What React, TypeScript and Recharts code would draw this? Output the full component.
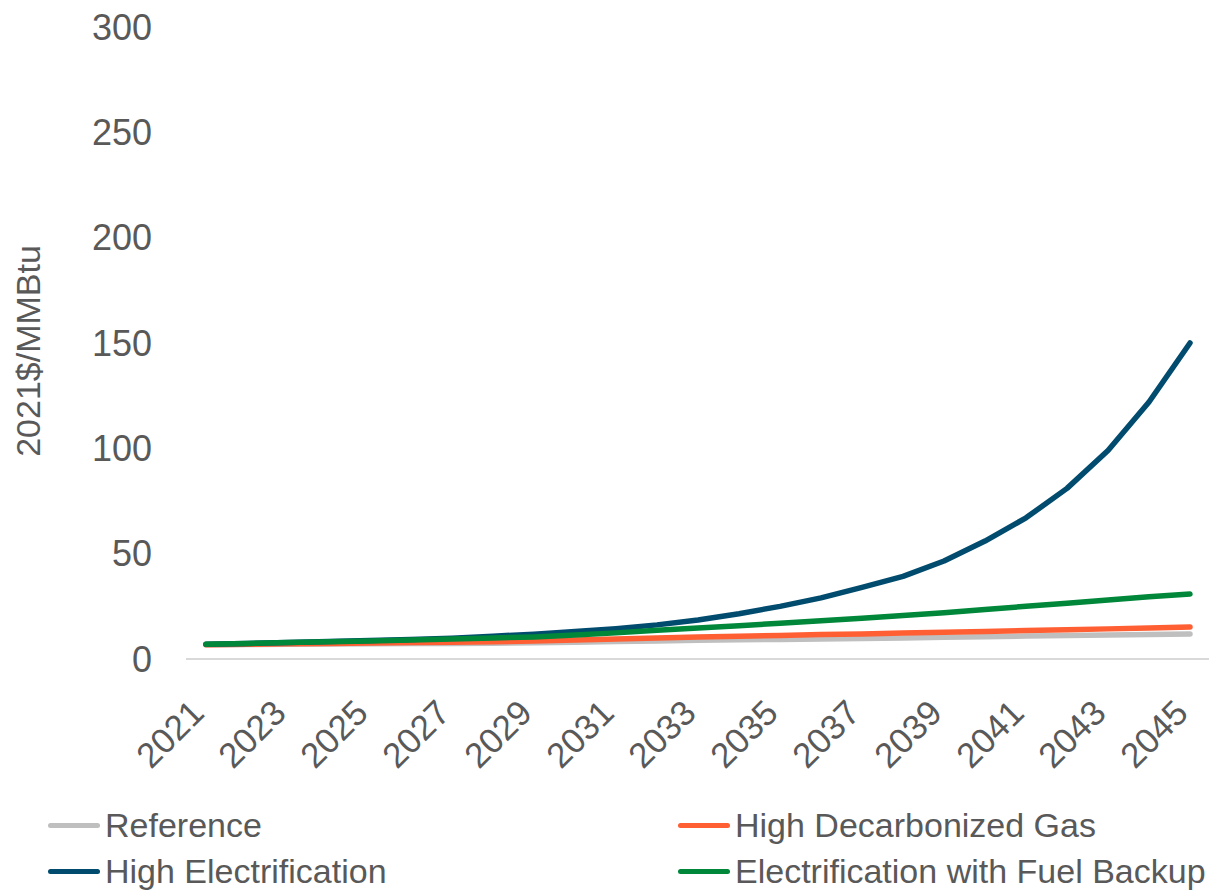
import React from 'react';
import { LineChart, Line, XAxis, YAxis, Legend } from 'recharts';

const years = [
  '2021', '2022', '2023', '2024', '2025', '2026', '2027', '2028', '2029', '2030',
  '2031', '2032', '2033', '2034', '2035', '2036', '2037', '2038', '2039', '2040',
  '2041', '2042', '2043', '2044', '2045',
];

const reference = [
  6.8, 6.9, 7.0, 7.1, 7.2, 7.3, 7.4, 7.5, 7.7, 8.0,
  8.3, 8.6, 8.9, 9.1, 9.3, 9.5, 9.7, 10.0, 10.3, 10.6,
  10.9, 11.1, 11.4, 11.6, 11.9,
];

const highDecarbGas = [
  6.8, 7.0, 7.2, 7.4, 7.6, 7.8, 8.0, 8.2, 8.5, 9.0,
  9.5, 10.0, 10.4, 10.8, 11.2, 11.6, 11.9, 12.3, 12.7, 13.1,
  13.5, 13.9, 14.3, 14.7, 15.2,
];

const highElectrification = [
  7.0, 7.4, 7.8, 8.3, 8.8, 9.3, 9.9, 10.8, 11.8, 13.0,
  14.4, 16.2, 18.5, 21.5, 25.0, 29.0, 34.0, 39.2, 46.5, 56.0,
  67.0, 81.0, 99.0, 122.0, 150.0,
];

const elecFuelBackup = [
  7.0, 7.4, 7.8, 8.2, 8.6, 9.0, 9.5, 10.0, 10.5, 11.4,
  12.4, 13.6, 14.7, 15.8, 17.0, 18.2, 19.3, 20.7, 22.0, 23.5,
  25.0, 26.5, 28.0, 29.5, 30.8,
];

const yTicks = [0, 50, 100, 150, 200, 250, 300];

const series = [
  { key: 'reference', name: 'Reference', color: '#BFBFBF' },
  { key: 'gas', name: 'High Decarbonized Gas', color: '#FF5F33' },
  { key: 'elec', name: 'High Electrification', color: '#004B6E' },
  { key: 'backup', name: 'Electrification with Fuel Backup', color: '#00873A' },
];

const data = years.map((year, i) => ({
  year,
  reference: reference[i],
  gas: highDecarbGas[i],
  elec: highElectrification[i],
  backup: elecFuelBackup[i],
}));

const TEXT = '#595959';
const FONT = 'Liberation Sans, Arial, sans-serif';

const XTick = (props: any) => {
  const { x, y, payload } = props;
  return (
    <g transform={`translate(${x},${y})`}>
      <text
        x={0}
        y={0}
        textAnchor="end"
        transform="rotate(-45)"
        fill={TEXT}
        fontSize={35}
        fontFamily={FONT}
      >
        {payload.value}
      </text>
    </g>
  );
};

const YLabel = (props: any) => {
  const { viewBox } = props;
  const cx = viewBox.x + 40;
  const cy = viewBox.y + viewBox.height / 2 + 8;
  return (
    <text
      x={cx}
      y={cy}
      textAnchor="middle"
      transform={`rotate(-90, ${cx}, ${cy})`}
      fill={TEXT}
      fontSize={34}
      fontFamily={FONT}
    >
      2021$/MMBtu
    </text>
  );
};

const LegendContent = () => (
  <div
    style={{
      display: 'grid',
      gridTemplateColumns: '630px 540px',
      rowGap: 9,
      paddingLeft: 48,
      fontFamily: FONT,
      fontSize: 34,
      color: TEXT,
    }}
  >
    {series.map((s) => (
      <div key={s.key} style={{ display: 'flex', alignItems: 'center', height: 37, whiteSpace: 'nowrap' }}>
        <span
          style={{
            display: 'inline-block',
            width: 52,
            height: 5,
            borderRadius: 3,
            background: s.color,
            marginRight: 5,
          }}
        />
        <span>{s.name}</span>
      </div>
    ))}
  </div>
);

export default function App() {
  return (
    <div style={{ position: 'absolute', left: 0, top: 0, width: 1211, height: 891, background: '#fff' }}>
      <LineChart
        width={1211}
        height={891}
        data={data}
        margin={{ top: 27, right: 2, bottom: 49, left: 0 }}
      >
        <XAxis
          dataKey="year"
          interval={1}
          tickLine={false}
          tickSize={0}
          tickMargin={56}
          axisLine={{ stroke: '#D9D9D9', strokeWidth: 2 }}
          padding={{ left: 20, right: 19 }}
          tick={<XTick />}
          height={100}
        />
        <YAxis
          width={186}
          domain={[0, 300]}
          ticks={yTicks}
          axisLine={false}
          tickLine={false}
          tickSize={0}
          tickMargin={34}
          tick={{ fill: TEXT, fontSize: 36, fontFamily: FONT }}
          label={<YLabel />}
        />
        <Legend
          verticalAlign="bottom"
          content={<LegendContent />}
          wrapperStyle={{ position: 'absolute', left: 0, top: 807, width: 1211 }}
        />
        {series.map((s) => (
          <Line
            key={s.key}
            type="linear"
            dataKey={s.key}
            name={s.name}
            stroke={s.color}
            strokeWidth={5.5}
            strokeLinecap="round"
            strokeLinejoin="round"
            dot={false}
            activeDot={false}
            isAnimationActive={false}
          />
        ))}
      </LineChart>
    </div>
  );
}
